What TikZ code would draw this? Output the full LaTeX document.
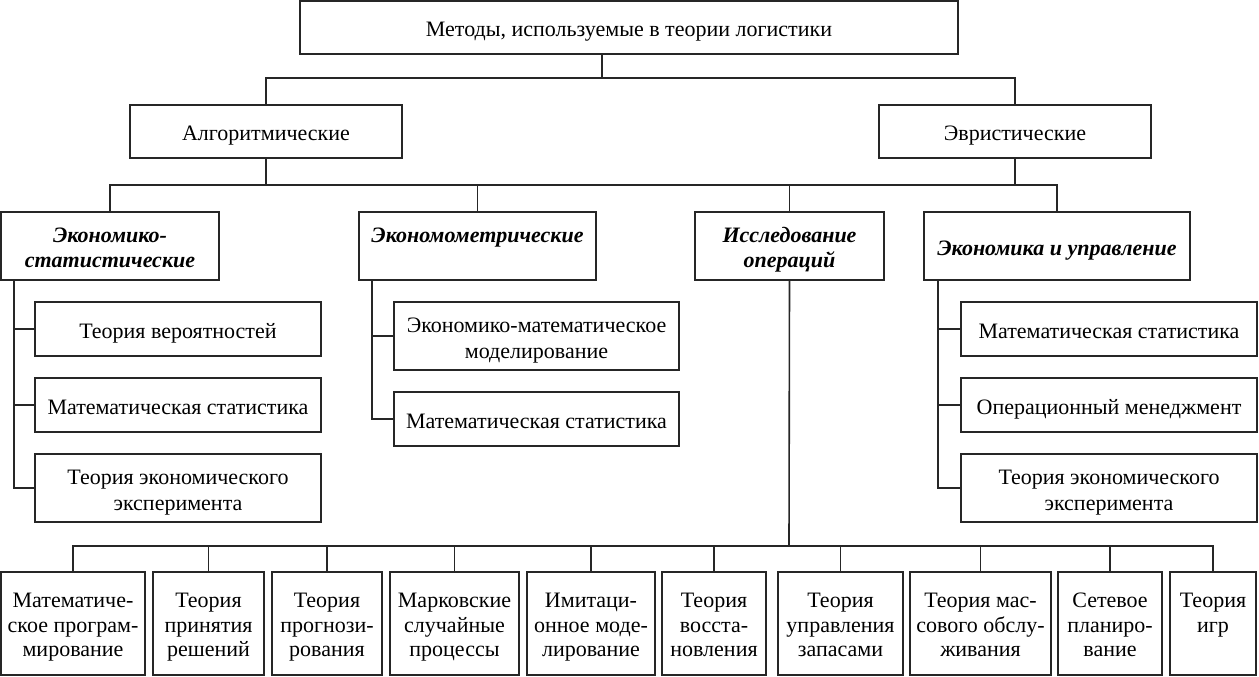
\documentclass[tikz,border=0pt]{standalone}
\usepackage{fontspec}
\setmainfont{Liberation Serif}
\usetikzlibrary{positioning,calc}

\newcommand\lgstrut{\rule{0pt}{\dimexpr0.7\baselineskip+4pt\relax}}

\begin{document}
\begin{tikzpicture}[
            x=0.5pt, y=0.5pt,
            line width=0.8pt,
            draw=black!85,
            every node/.style={
                draw=black!85,
                line width=0.8pt,
                inner sep=0pt,
                align=flush center,
                font=\fontsize{11}{13}\selectfont,
                execute at begin node=\lgstrut,
                execute at end node=\strut
            },
            box/.style 2 args={text width=#1, minimum height=#2},
            cat/.style={font=\fontsize{11}{12.5}\selectfont\bfseries\itshape},
            leaf/.style={font=\fontsize{11}{12.2}\selectfont, minimum height=51.5pt}
        ]
        \useasboundingbox (0,0) rectangle (1259,-676);

        % top levels
        \node[box={329pt}{26.5pt}] (top) at (629,-27.5) {Методы, используемые в теории логистики};
        \node[box={136pt}{26.5pt}] (alg) at (266,-131.5) {Алгоритмические};
        \node[box={136pt}{26.5pt}] (evr) at (1015,-131.5) {Эвристические};

        % groups
        \node[cat, box={109pt}{34pt}] (es) at (110,-246) {Экономико-\\статистические};
        \node[cat, box={118.5pt}{34pt}] (em) at (477.5,-246) {Экономометрические\\\mbox{}};
        \node[cat, box={94.5pt}{34pt}] (io) at (789.5,-246) {Исследование\\операций};
        \node[cat, box={133pt}{34pt}] (eu) at (1057,-246) {Экономика и управление};

        % methods in the groups
        \node[box={143pt}{27pt}] (es1) at (178,-329) {Теория вероятностей};
        \node[box={143pt}{27pt}] (es2) at (178,-405) {Математическая статистика};
        \node[box={143pt}{34pt}] (es3) at (178,-488) {Теория экономического\\эксперимента};
        \node[box={142.5pt}{34pt}] (em1) at (536.5,-336) {Экономико-математическое\\моделирование};
        \node[box={142.5pt}{27pt}] (em2) at (536.5,-419) {Математическая статистика};
        \node[box={148pt}{27pt}] (eu1) at (1109,-329) {Математическая статистика};
        \node[box={148pt}{27pt}] (eu2) at (1109,-405) {Операционный менеджмент};
        \node[box={148pt}{34pt}] (eu3) at (1109,-488) {Теория экономического\\эксперимента};

        % operations research row
        \node[leaf, text width=72pt] (m1) at (73,-623.5) {Математиче-\\ское програм-\\мирование};
        \node[leaf, text width=55.5pt] (m2) at (208.5,-623.5) {Теория\\принятия\\решений};
        \node[leaf, text width=55pt] (m3) at (327,-623.5) {Теория\\прогнози-\\рования};
        \node[leaf, text width=64.5pt] (m4) at (454.5,-623.5) {Марковские\\случайные\\процессы};
        \node[leaf, text width=64pt] (m5) at (591,-623.5) {Имитаци-\\онное моде-\\лирование};
        \node[leaf, text width=52pt] (m6) at (714,-623.5) {Теория\\восста-\\новления};
        \node[leaf, text width=62.5pt] (m7) at (840.5,-623.5) {Теория\\управления\\запасами};
        \node[leaf, text width=70.5pt] (m8) at (980.5,-623.5) {Теория мас-\\сового обслу-\\живания};
        \node[leaf, text width=52pt] (m9) at (1110,-623.5) {Сетевое\\планиро-\\вание};
        \node[leaf, text width=43pt] (m10) at (1213,-623.5) {Теория\\игр\\\mbox{}};

        % connectors
        \coordinate (b1) at (602,-78);
        \coordinate (b2) at (266,-185);
        \coordinate (b3) at (789,-546);
        \draw (top.south -| b1) -- (b1);
        \draw (alg.north) |- (b1) -| (evr.north);
        \draw (alg.south) -- (b2);
        \draw (evr.south) -- (evr.south |- b2);
        \draw (es.north) |- (b2) -| (eu.north);
        \draw (em.north) -- (em.north |- b2);
        \draw (io.north) -- (io.north |- b2);
        \foreach \s in {es1,es2,es3}
            \draw ([xshift=7pt]es.south west) |- (\s.west);
        \foreach \s in {em1,em2}
            \draw ([xshift=7pt]em.south west) |- (\s.west);
        \foreach \s in {eu1,eu2,eu3}
            \draw ([xshift=7.5pt]eu.south west) |- (\s.west);
        \draw (io.south) -- (b3);
        \draw (m1.north) |- (b3) -| (m10.north);
        \foreach \i in {2,...,9}
            \draw (m\i.north) -- (m\i.north |- b3);
    \end{tikzpicture}
\end{document}
